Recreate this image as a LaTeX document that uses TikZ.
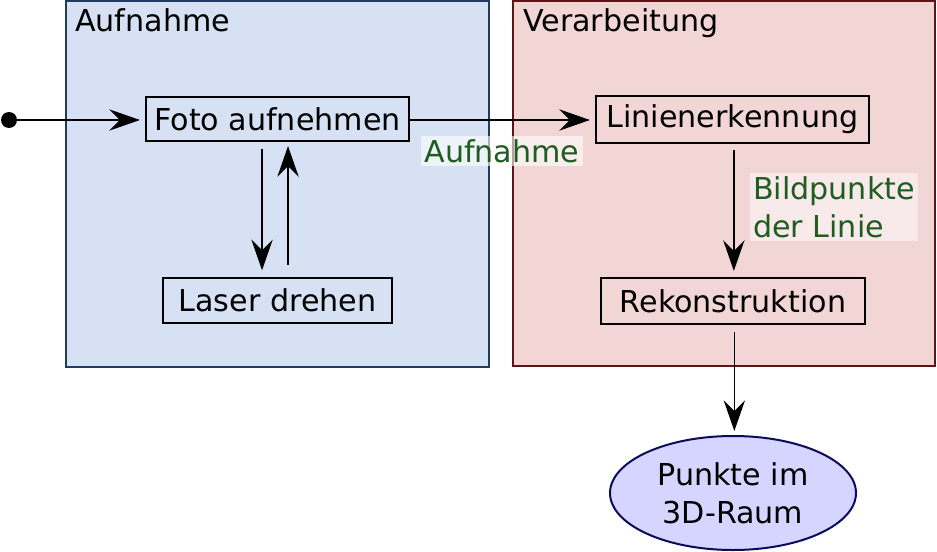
\documentclass[tikz,border=0pt]{standalone}
\usepackage{fontspec}
\setmainfont{DejaVu Sans}
\usetikzlibrary{arrows.meta,shapes.geometric}
\definecolor{clblue}{HTML}{D6E1F3}
\definecolor{clblueb}{HTML}{203A60}
\definecolor{clred}{HTML}{F2D6D6}
\definecolor{clredb}{HTML}{5C1414}
\definecolor{lblgreen}{HTML}{1F5C1F}
\definecolor{ellfill}{HTML}{D5D5FF}
\definecolor{ellb}{HTML}{0B0B5C}
\begin{document}
\begin{tikzpicture}[x=0.75pt,y=-0.75pt,
  every node/.style={font=\fontsize{22.6}{28.5}\selectfont},
  cluster/.style={line width=1.1pt},
  box/.style={draw,line width=1.6pt,inner sep=0pt},
  conn/.style={line width=1.1pt,-{Stealth[length=23pt,width=16pt,inset=8pt]}},
  elab/.style={text=lblgreen,inner sep=2.5pt}]
\useasboundingbox (0,0) rectangle (937,552);
\draw[cluster,fill=clblue,draw=clblueb] (66,1) rectangle (489,367);
\draw[cluster,fill=clred,draw=clredb] (513,1) rectangle (935,366);
\node[anchor=base west,inner sep=0pt] (ca) at (75,32) {Aufnahme};
\node[anchor=base west,inner sep=0pt] (cv) at (523,32) {Verarbeitung};
\node[box,minimum width=197.25pt,minimum height=33pt] (foto) at (277.5,119) {Foto aufnehmen};
\node[box,minimum width=171.75pt,minimum height=33.75pt] (laser) at (277.5,300.5) {Laser drehen};
\node[box,minimum width=204.75pt,minimum height=35.25pt] (lin) at (732.5,119.5) {Linienerkennung};
\node[box,minimum width=198pt,minimum height=34.5pt] (rek) at (733,301) {Rekonstruktion};
\node[ellipse,draw=ellb,fill=ellfill,line width=1.5pt,minimum width=184.5pt,minimum height=85.5pt,inner sep=0pt,align=center] (pkt) at (733,493) {Punkte im\\3D-Raum};
\fill (9,120) circle (6pt);
\coordinate (startc) at (9,120);
\draw[conn,shorten <=6pt,shorten >=3.75pt] (startc) -- (startc -| foto.west);
\draw[conn,shorten >=3.75pt] (foto.east |- 0,120) -- (lin.west |- 0,120);
\draw[conn,shorten <=5pt,shorten >=5pt] ([xshift=-11.6pt]foto.south) -- ([xshift=-11.6pt]laser.north);
\draw[conn,shorten <=9pt,shorten >=3pt] ([xshift=7.9pt]laser.north) -- ([xshift=7.9pt]foto.south);
\draw[conn,shorten <=4.5pt,shorten >=4.5pt] ([xshift=1pt]lin.south) -- ([xshift=1pt]lin.south |- rek.north);
\draw[conn,shorten <=5pt,shorten >=3pt] ([xshift=1pt]rek.south) -- ([xshift=1pt]rek.south |- pkt.north);
\node[elab,fill=white,fill opacity=0.6,text opacity=1] (la) at (502,151) {Aufnahme};
\node[elab,fill=white,fill opacity=0.5,text opacity=1,align=left] (lb) at (834,207) {Bildpunkte\\der Linie};
\end{tikzpicture}
\end{document}
